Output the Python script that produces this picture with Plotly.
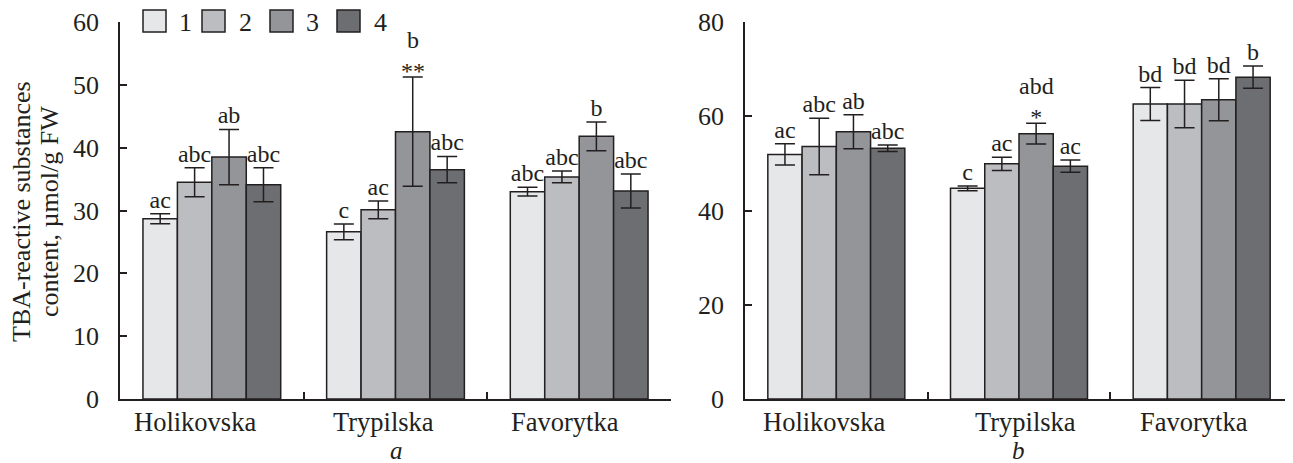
import plotly.graph_objects as go

categories = ["Holikovska", "Trypilska", "Favorytka"]
series_names = ["1", "2", "3", "4"]
colors = ["#e6e7e9", "#bcbdc0", "#939598", "#6d6e71"]

# Panel a (per series, across categories)
a_means = [[28.7, 26.6, 33.0], [34.5, 30.1, 35.35], [38.5, 42.55, 41.8], [34.1, 36.5, 33.1]]
a_errors = [[0.8, 1.25, 0.7], [2.3, 1.4, 0.95], [4.4, 8.7, 2.3], [2.7, 2.1, 2.7]]
a_letters = [["ac", "c", "abc"], ["abc", "ac", "abc"], ["ab", "", "b"], ["abc", "abc", "abc"]]
# letters combined with significance stars: (series index, category index, text)
a_starred = [(2, 1, "b<br>**")]

# Panel b
b_means = [[51.9, 44.7, 62.6], [53.6, 49.9, 62.6], [56.7, 56.3, 63.5], [53.2, 49.4, 68.3]]
b_errors = [[2.25, 0.5, 3.5], [6.0, 1.4, 5.05], [3.6, 2.2, 4.45], [0.7, 1.3, 2.35]]
b_letters = [["ac", "c", "bd"], ["abc", "ac", "bd"], ["ab", "", "bd"], ["abc", "ac", "b"]]
b_starred = [(2, 1, "abd<br>*")]

FONT = "Liberation Serif, Times New Roman, serif"
INK = "#231f20"
BARGAP = 0.25
# page body has an 8px margin: the figure is drawn 8px in from the window edges
OX, OY = 8, 8
W, H = 1293 - OX, 463 - OY


def px_x(p):
    return (p - OX) / W


def px_y(p):
    return 1 - (p - OY) / H


fig = go.Figure()

panels = [
    (a_means, a_errors, a_letters, a_starred, "x", "y", [-17, -12, -14]),
    (b_means, b_errors, b_letters, b_starred, "x2", "y2", [-12, 6, -8]),
]
for means, errs, letters, starred, xa, ya, lab_shift in panels:
    for j in range(4):
        fig.add_trace(go.Bar(
            x=categories, y=means[j], name=series_names[j],
            marker=dict(color=colors[j], line=dict(color=INK, width=1.5)),
            error_y=dict(type="data", array=errs[j], color=INK, thickness=1.5, width=10),
            offsetgroup=str(j), xaxis=xa, yaxis=ya, showlegend=False,
        ))
        tops = [m + e for m, e in zip(means[j], errs[j])]
        fig.add_trace(go.Scatter(
            x=categories, y=tops, text=letters[j], mode="text",
            textposition="top center",
            textfont=dict(family=FONT, size=24, color=INK),
            offsetgroup=str(j), xaxis=xa, yaxis=ya, showlegend=False,
            hoverinfo="skip", cliponaxis=False,
        ))
    for j, i, txt in starred:
        xpos = i + (j - 1.5) * (1 - BARGAP) / 4
        fig.add_annotation(xref=xa, yref=ya, x=xpos, y=means[j][i] + errs[j][i],
                           text=txt, showarrow=False, xanchor="center",
                           yanchor="bottom", yshift=-9,
                           font=dict(family=FONT, size=24, color=INK))
    # category labels
    for i, cat in enumerate(categories):
        fig.add_annotation(xref=xa, yref="paper", x=cat, y=px_y(422), xshift=lab_shift[i],
                           text=cat, showarrow=False, xanchor="center", yanchor="middle",
                           font=dict(family=FONT, size=26.5, color=INK))

ydom = [px_y(399), px_y(22)]
axis_common = dict(showline=True, linecolor=INK, linewidth=1.5, ticks="inside",
                   tickcolor=INK, tickwidth=1.5, showgrid=False, zeroline=False,
                   automargin=False)
yfont = dict(family=FONT, size=26, color=INK)

fig.update_layout(
    template="none",
    width=W, height=H, margin=dict(l=0, r=0, t=0, b=0, pad=0, autoexpand=False),
    paper_bgcolor="white", plot_bgcolor="white", showlegend=False,
    barmode="group", bargap=BARGAP, bargroupgap=0, scattermode="group",
    xaxis=dict(domain=[px_x(120), px_x(671)], anchor="y", type="category",
               tickson="boundaries", ticklen=7, showticklabels=False, **axis_common),
    yaxis=dict(domain=ydom, anchor="x", range=[0, 60], dtick=10, ticklen=7,
               ticklabelstandoff=14, tickfont=yfont, **axis_common),
    xaxis2=dict(domain=[px_x(745), 1.0], anchor="y2", type="category",
                tickson="boundaries", ticklen=7, showticklabels=False, **axis_common),
    yaxis2=dict(domain=ydom, anchor="x2", range=[0, 80], dtick=20, ticklen=7,
                ticklabelstandoff=14, tickfont=yfont, **axis_common),
)

# Legend (manual squares + labels)
leg_x = [143, 202, 270, 337]
leg_tx = [177, 237, 304, 372]
for j in range(4):
    fig.add_shape(type="rect", xref="paper", yref="paper",
                  x0=px_x(leg_x[j]), x1=px_x(leg_x[j] + 23),
                  y0=px_y(32), y1=px_y(10),
                  fillcolor=colors[j], line=dict(color=INK, width=1.5))
    fig.add_annotation(xref="paper", yref="paper", x=px_x(leg_tx[j]), y=px_y(22),
                       xanchor="left", yanchor="middle", text=series_names[j],
                       showarrow=False, font=dict(family=FONT, size=26, color=INK))

# Y-axis title (two lines)
for txt, cx in [("TBA-reactive substances", 22), ("content, µmol/g FW", 50)]:
    fig.add_annotation(xref="paper", yref="paper", x=px_x(cx), y=px_y(212),
                       text=txt, textangle=-90, showarrow=False,
                       xanchor="center", yanchor="middle",
                       font=dict(family=FONT, size=26, color=INK))

# Panel subtitles
for txt, cx in [("a", 396), ("b", 1018)]:
    fig.add_annotation(xref="paper", yref="paper", x=px_x(cx), y=px_y(450),
                       text="<i>" + txt + "</i>", showarrow=False,
                       xanchor="center", yanchor="middle",
                       font=dict(family=FONT, size=25, color=INK))

fig.write_html("out.html")
